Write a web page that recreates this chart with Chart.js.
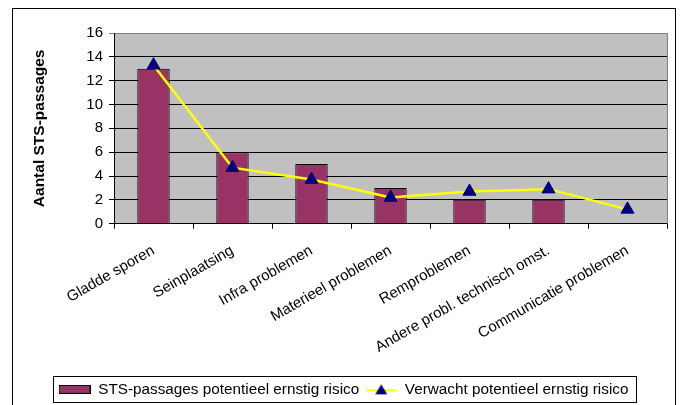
<!DOCTYPE html>
<html>
<head>
<meta charset="utf-8">
<script src="https://cdn.jsdelivr.net/npm/chart.js@4/dist/chart.umd.min.js"></script>
<style>
  html, body { margin: 0; padding: 0; background: #fff; }
  canvas { display: block; }
</style>
</head>
<body>
<canvas id="stsChart" width="683" height="405"></canvas>
<script>
// categorieen en waarden
var categories = ['Gladde sporen', 'Seinplaatsing', 'Infra problemen', 'Materieel problemen',
                  'Remproblemen', 'Andere probl. technisch omst.', 'Communicatie problemen'];
var stsPassages = [13, 6, 5, 3, 2, 2, 0];
var verwacht = [13.3, 4.7, 3.7, 2.2, 2.7, 2.9, 1.2];
var yTicks = [0, 2, 4, 6, 8, 10, 12, 14, 16];

var font = 'Liberation Sans, Arial, sans-serif';

// kleine plaatjes voor de legenda-symbolen
function barIcon() {
    var c = document.createElement('canvas');
    c.width = 32; c.height = 9;
    var x = c.getContext('2d');
    x.fillStyle = '#993366';
    x.fillRect(0, 0, 32, 9);
    x.strokeStyle = '#000';
    x.lineWidth = 1;
    x.strokeRect(0.5, 0.5, 31, 8);
    return c;
}
function lineIcon() {
    var c = document.createElement('canvas');
    c.width = 30; c.height = 12;
    var x = c.getContext('2d');
    x.strokeStyle = '#FFFF00';
    x.lineWidth = 2;
    x.beginPath(); x.moveTo(0, 7); x.lineTo(30, 7); x.stroke();
    x.fillStyle = '#000080';
    x.beginPath(); x.moveTo(15, 1); x.lineTo(21, 11); x.lineTo(9, 11); x.closePath(); x.fill();
    return c;
}
var icons = [barIcon(), lineIcon()];

var framePlugin = {
    id: 'frame',
    beforeDraw: function (chart) {
        var ctx = chart.ctx, a = chart.chartArea;
        ctx.save();
        ctx.fillStyle = '#fff';
        ctx.fillRect(0, 0, chart.width, chart.height);
        ctx.strokeStyle = '#000';
        ctx.lineWidth = 1;
        ctx.strokeRect(12.5, 8.5, 663, 410);
        ctx.fillStyle = '#C0C0C0';
        ctx.fillRect(a.left, a.top, a.right - a.left, a.bottom - a.top);
        ctx.restore();
    },
    beforeDatasetsDraw: function (chart) {
        var ctx = chart.ctx, a = chart.chartArea;
        ctx.save();
        ctx.strokeStyle = '#808080';
        ctx.lineWidth = 1;
        ctx.beginPath();
        ctx.moveTo(a.right + 0.5, a.top);
        ctx.lineTo(a.right + 0.5, a.bottom);
        ctx.stroke();
        ctx.restore();
    },
    afterDraw: function (chart) {
        var lg = chart.legend, hb = lg.legendHitBoxes;
        if (!hb || !hb.length) return;
        var first = hb[0], last = hb[hb.length - 1];
        var cy = first.top + first.height / 2;
        var ctx = chart.ctx;
        ctx.save();
        ctx.strokeStyle = '#000';
        ctx.lineWidth = 1;
        ctx.strokeRect(Math.round(first.left - 6) + 0.5, Math.round(cy - 13) + 0.5,
                       Math.round(last.left + last.width + 7 - (first.left - 6)), 26);
        ctx.restore();
    }
};

var ctx = document.getElementById('stsChart');
var myChart = new Chart(ctx, {
    type: 'bar',
    data: {
        labels: categories,
        datasets: [{
            type: 'line',
            label: 'Verwacht potentieel ernstig risico',
            data: verwacht,
            borderColor: '#FFFF00',
            borderWidth: 2.5,
            tension: 0,
            pointStyle: 'triangle',
            pointRadius: 7.5,
            pointBackgroundColor: '#000080',
            pointBorderColor: '#000080',
            pointBorderWidth: 1,
            order: 1
        }, {
            label: 'STS-passages potentieel ernstig risico',
            data: stsPassages,
            backgroundColor: '#993366',
            borderColor: '#000',
            borderWidth: 1,
            categoryPercentage: 1,
            barPercentage: 0.41,
            order: 2
        }]
    },
    options: {
        responsive: false,
        animation: false,
        layout: { padding: { left: 20, right: 16, top: 33, bottom: -2 } },
        plugins: {
            tooltip: { enabled: false },
            legend: {
                position: 'bottom',
                reverse: true,
                labels: {
                    color: '#000',
                    font: { family: font, size: 15.3 },
                    usePointStyle: true,
                    pointStyleWidth: 32,
                    padding: 6,
                    generateLabels: function (chart) {
                        var items = Chart.defaults.plugins.legend.labels.generateLabels(chart);
                        items.forEach(function (it) {
                            it.pointStyle = icons[it.datasetIndex === 1 ? 0 : 1];
                        });
                        return items;
                    }
                }
            }
        },
        scales: {
            x: {
                afterFit: function (s) { s.height = 152; },
                border: { color: '#000', width: 1 },
                grid: { drawOnChartArea: false, drawTicks: true, tickLength: 5, color: '#000', offset: true },
                ticks: {
                    color: '#000',
                    font: { family: font, size: 15 },
                    minRotation: 30,
                    maxRotation: 30,
                    autoSkip: false,
                    padding: 13
                }
            },
            y: {
                min: 0,
                max: 16,
                afterFit: function (s) { s.width = 94; },
                afterBuildTicks: function (s) { s.ticks = yTicks.map(function (v) { return { value: v }; }); },
                border: { color: '#000', width: 1 },
                grid: {
                    color: function (c) { return c.tick && c.tick.value === 16 ? '#808080' : '#000'; },
                    tickLength: 5
                },
                ticks: { color: '#000', font: { family: font, size: 15 }, padding: 6 },
                title: {
                    display: true,
                    text: 'Aantal STS-passages',
                    color: '#000',
                    font: { family: font, size: 15.5, weight: 'bold' },
                    padding: { top: 10, bottom: 4 }
                }
            }
        }
    },
    plugins: [framePlugin]
});
</script>
</body>
</html>
